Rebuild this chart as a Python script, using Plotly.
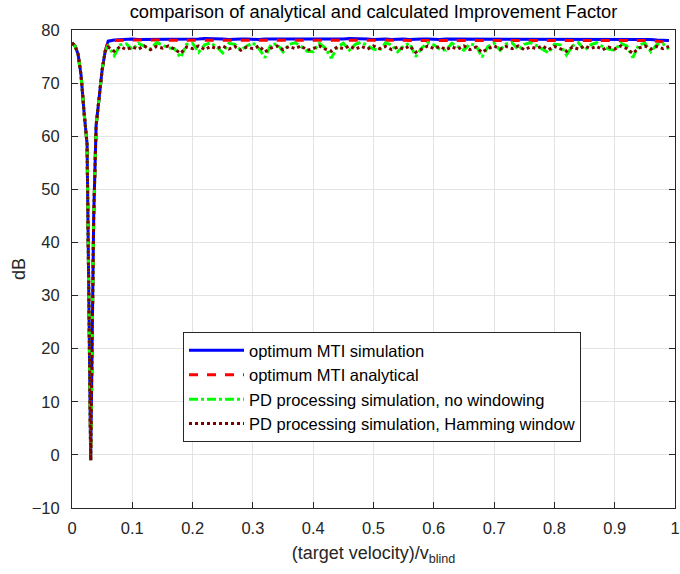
import numpy as np
import plotly.graph_objects as go

# ---- data ----
notch_x = [0.0, 0.005, 0.01, 0.015, 0.02, 0.025, 0.031, 0.036, 0.04, 0.045, 0.05, 0.055]
notch_db = [77.6, 77.0, 75.5, 71.5, 64.5, 58.5, -1.0, 45.0, 62.0, 67.5, 72.5, 76.0]

flat_x = [round(0.06 + 0.01 * i, 2) for i in range(94)]  # 0.06 ... 0.99

blue_db = [77.9, 78.1, 78.2, 78.2, 78.3, 78.2, 78.2, 78.3, 78.2, 78.2,
           78.3, 78.3, 78.2, 78.2, 78.3, 78.3, 78.4, 78.4, 78.3, 78.3,
           78.2, 78.3, 78.3, 78.3, 78.2, 78.2, 78.3, 78.3, 78.2, 78.3,
           78.3, 78.2, 78.2, 78.3, 78.3, 78.2, 78.3, 78.3, 78.2, 78.3,
           78.4, 78.4, 78.3, 78.3, 78.2, 78.3, 78.3, 78.2, 78.3, 78.3,
           78.2, 78.3, 78.3, 78.3, 78.2, 78.2, 78.3, 78.3, 78.2, 78.3,
           78.3, 78.2, 78.3, 78.3, 78.2, 78.2, 78.3, 78.3, 78.2, 78.3,
           78.3, 78.2, 78.2, 78.3, 78.3, 78.2, 78.3, 78.3, 78.2, 78.2,
           78.3, 78.3, 78.2, 78.2, 78.3, 78.2, 78.2, 78.3, 78.2, 78.2,
           78.2, 78.1, 78.1, 78.0]

red_db = [77.8, 78.0, 78.1, 78.1, 78.1, 78.1, 78.1, 78.1, 78.1, 78.1,
          78.1, 78.1, 78.1, 78.1, 78.1, 78.1, 78.1, 78.1, 78.1, 78.1,
          78.1, 78.1, 78.1, 78.1, 78.1, 78.1, 78.1, 78.1, 78.1, 78.1,
          78.1, 78.1, 78.1, 78.1, 78.1, 78.1, 78.1, 78.1, 78.1, 78.1,
          78.1, 78.1, 78.1, 78.1, 78.1, 78.1, 78.1, 78.1, 78.1, 78.1,
          78.1, 78.1, 78.1, 78.1, 78.1, 78.1, 78.1, 78.1, 78.1, 78.1,
          78.1, 78.1, 78.1, 78.1, 78.1, 78.1, 78.1, 78.1, 78.1, 78.1,
          78.1, 78.1, 78.1, 78.1, 78.1, 78.1, 78.1, 78.1, 78.1, 78.1,
          78.1, 78.1, 78.1, 78.1, 78.1, 78.1, 78.1, 78.1, 78.0, 78.0,
          78.0, 77.9, 77.8, 77.6]

green_db = [77.0, 75.2, 77.2, 77.4, 76.3, 77.5, 77.0, 76.4, 77.6, 77.2,
            76.6, 76.5, 74.8, 77.3, 77.5, 75.8, 77.2, 77.6, 76.8, 75.7,
            77.5, 77.3, 76.2, 77.0, 77.6, 76.5, 74.8, 77.3, 77.4, 75.9,
            77.3, 77.6, 76.9, 76.0, 75.9, 77.5, 76.6, 74.7, 76.8, 77.5,
            76.2, 77.3, 77.7, 77.0, 76.4, 76.2, 77.6, 77.2, 75.9, 77.0,
            77.5, 75.0, 76.6, 77.6, 77.2, 76.4, 76.2, 77.5, 76.8, 76.2,
            77.4, 77.1, 74.9, 76.9, 77.5, 76.2, 77.4, 77.6, 76.3, 77.3,
            77.6, 77.1, 76.4, 75.7, 77.3, 77.2, 75.3, 77.0, 77.6, 76.2,
            77.2, 77.6, 76.9, 76.4, 76.2, 77.5, 77.0, 74.8, 77.2, 77.5,
            75.9, 77.3, 77.4, 76.4]

hamming_db = [76.8, 76.0, 76.9, 76.3, 76.8, 76.4, 77.0, 76.3, 76.9, 76.6,
              77.0, 76.4, 75.6, 76.8, 76.5, 77.0, 76.3, 76.9, 76.5, 77.0,
              76.4, 76.9, 76.2, 76.8, 76.5, 77.0, 75.9, 76.6, 77.0, 76.3,
              76.9, 76.5, 77.0, 76.2, 76.5, 77.0, 76.4, 76.0, 76.8, 76.5,
              77.0, 76.4, 76.9, 76.4, 77.0, 76.5, 76.9, 76.3, 76.8, 76.4,
              77.0, 75.8, 76.4, 77.0, 76.5, 76.9, 76.3, 76.8, 76.4, 77.0,
              76.3, 76.8, 75.8, 76.5, 77.0, 76.4, 76.9, 76.5, 77.0, 76.3,
              76.8, 76.5, 77.0, 76.3, 76.9, 76.4, 76.0, 76.8, 76.4, 77.0,
              76.5, 76.9, 76.3, 76.8, 76.4, 77.0, 76.5, 75.6, 76.6, 77.0,
              76.4, 76.9, 76.5, 76.9]

series_names = ["optimum MTI simulation", "optimum MTI analytical",
                "PD processing simulation, no windowing",
                "PD processing simulation, Hamming window"]
series_values = [blue_db, red_db, green_db, hamming_db]
series_colors = ["#0000FF", "#FF0000", "#00FF00", "#800000"]
series_dash = ["solid", "dash", "dashdot", "dot"]

x_tick_vals = [0, 0.1, 0.2, 0.3, 0.4, 0.5, 0.6, 0.7, 0.8, 0.9, 1]
x_tick_text = ["0", "0.1", "0.2", "0.3", "0.4", "0.5", "0.6", "0.7", "0.8", "0.9", "1"]
y_tick_vals = [-10, 0, 10, 20, 30, 40, 50, 60, 70, 80]

FONT = "Liberation Sans, Arial"

# ---- figure ----
fig = go.Figure()
xs = notch_x + flat_x
for name, vals, col, dash in zip(series_names, series_values, series_colors, series_dash):
    fig.add_trace(go.Scatter(
        x=xs, y=notch_db + vals, mode="lines", name=name,
        line=dict(color=col, width=3, dash=dash),
    ))

axis_common = dict(
    showline=True, linecolor="#262626", linewidth=1, mirror="ticks",
    ticks="inside", ticklen=6, tickcolor="#262626",
    showgrid=True, gridcolor="#e3e3e3", gridwidth=1, zeroline=False,
    tickfont=dict(family=FONT, size=16.5, color="#262626"),
    ticklabeloverflow="allow", automargin=False,
)

fig.update_layout(
    width=680, height=574,
    margin=dict(l=72, r=5, t=30, b=66),
    paper_bgcolor="white", plot_bgcolor="white",
    font=dict(family=FONT, color="#262626"),
    title=dict(text="comparison of analytical and calculated Improvement Factor",
               x=0.5, xref="paper", xanchor="center", y=1 - 12 / 574, yanchor="middle",
               font=dict(size=18.3, color="#000000")),
    xaxis=dict(range=[0, 1], tickvals=x_tick_vals, ticktext=x_tick_text,
               title=dict(text="(target velocity)/v<sub>blind</sub>", standoff=10,
                          font=dict(size=18, color="#262626")),
               ticklabelstandoff=5, **axis_common),
    yaxis=dict(range=[-10, 80], tickvals=y_tick_vals,
               title=dict(text="dB", standoff=1, font=dict(size=18, color="#262626")),
               ticklabelstandoff=8, **axis_common),
    showlegend=True,
    legend=dict(x=(183 - 72) / 603, y=(508 - 332) / 478, xanchor="left", yanchor="top",
                bgcolor="white", bordercolor="#262626", borderwidth=1,
                font=dict(size=16.5, color="#000000"), itemwidth=55,
                tracegroupgap=0),
)

fig.write_html("out.html", config={"displayModeBar": False})
